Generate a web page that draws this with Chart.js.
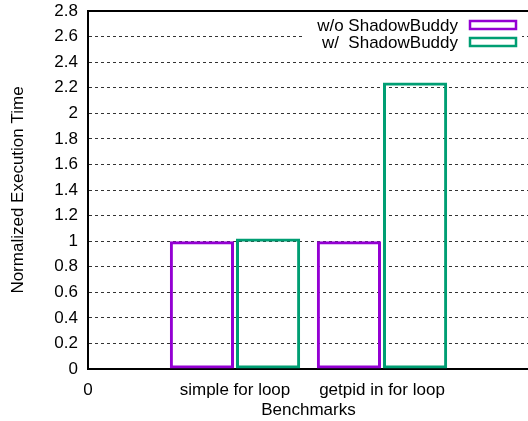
<!DOCTYPE html>
<html>
<head>
<meta charset="utf-8">
<script src="https://cdn.jsdelivr.net/npm/chart.js@4"></script>
<style>
    body { margin: 0; overflow: hidden; background: #fff; }
</style>
</head>
<body>
<canvas id="benchChart" width="540" height="421"></canvas>
<script>
// valores
var benchmarks = ['simple for loop', 'getpid in for loop'];
var semShadow = [1.0, 1.0];
var comShadow = [1.02, 2.24];
var legendas = ['w/o ShadowBuddy', 'w/  ShadowBuddy'];
var cores = ['#9400d3', '#009e73'];

// eixo x do gnuplot: 0 na esquerda, categorias em 1 e 2, 3 na direita
var rotulosX = ['0'].concat(benchmarks).concat(['']);

function pad(arr) {
    return [null].concat(arr).concat([null]);
}

var fonte = { family: '"Liberation Sans", Arial, sans-serif', size: 17 };

// legenda estilo gnuplot (texto a esquerda, caixa a direita)
var gnuLegend = {
    id: 'gnuLegend',
    afterDraw: function (chart) {
        var ctx = chart.ctx;
        var area = chart.chartArea;
        ctx.save();
        // linha de cima do quadro
        ctx.strokeStyle = '#000';
        ctx.lineWidth = 2;
        ctx.beginPath();
        ctx.moveTo(area.left - 1, area.top);
        ctx.lineTo(area.right, area.top);
        ctx.stroke();

        ctx.fillStyle = '#fff';
        ctx.fillRect(305, 15, 217, 37);
        ctx.font = fonte.size + 'px ' + fonte.family;
        ctx.textAlign = 'right';
        ctx.textBaseline = 'middle';
        var ds = chart.data.datasets;
        for (var i = 0; i < ds.length; i++) {
            var y = 25 + i * 17;
            ctx.fillStyle = '#000';
            ctx.fillText(ds[i].label, 458, y + 1);
            ctx.strokeStyle = ds[i].borderColor;
            ctx.lineWidth = 2.5;
            ctx.strokeRect(470, y - 4, 46, 8);
        }
        ctx.restore();
    }
};

var context = document.getElementById('benchChart').getContext('2d');
var benchChart = new Chart(context, {
    type: 'bar',
    data: {
        labels: rotulosX,
        datasets: [{
            label: legendas[0],
            data: pad(semShadow),
            backgroundColor: 'transparent',
            borderColor: cores[0],
            borderWidth: 3,
            borderSkipped: false
        }, {
            label: legendas[1],
            data: pad(comShadow),
            backgroundColor: 'transparent',
            borderColor: cores[1],
            borderWidth: 3,
            borderSkipped: false
        }]
    },
    options: {
        responsive: false,
        animation: false,
        categoryPercentage: 0.9,
        barPercentage: 0.97,
        layout: {
            padding: { left: 0, top: 11, right: 8, bottom: 0 }
        },
        plugins: {
            legend: { display: false },
            tooltip: { enabled: false }
        },
        scales: {
            x: {
                offset: false,
                grid: { display: false, drawTicks: false },
                border: { display: true, color: '#000', width: 2 },
                ticks: {
                    color: '#000',
                    font: fonte,
                    padding: 11,
                    maxRotation: 0,
                    autoSkip: false
                },
                title: {
                    display: true,
                    text: 'Benchmarks',
                    color: '#000',
                    font: fonte,
                    padding: { top: 0, bottom: 0 }
                },
                afterFit: function (scale) {
                    scale.height = 52;
                }
            },
            y: {
                min: 0,
                max: 2.8,
                grid: {
                    drawTicks: false,
                    lineWidth: 1,
                    color: function (c) {
                        if (c.tick && (c.tick.value <= 0.001 || c.tick.value >= 2.79)) {
                            return 'transparent';
                        }
                        return '#333';
                    }
                },
                border: { display: true, color: '#000', width: 2, dash: [3, 3] },
                ticks: {
                    stepSize: 0.2,
                    color: '#000',
                    font: fonte,
                    padding: 10,
                    callback: function (v) {
                        return String(parseFloat(v.toFixed(1)));
                    }
                },
                title: {
                    display: true,
                    text: 'Normalized Execution Time',
                    color: '#000',
                    font: fonte,
                    padding: { top: 8, bottom: 0 }
                },
                afterFit: function (scale) {
                    scale.width = 88;
                    scale.paddingTop = 0;
                    scale.paddingBottom = 0;
                }
            }
        }
    },
    plugins: [gnuLegend]
});
</script>
</body>
</html>
